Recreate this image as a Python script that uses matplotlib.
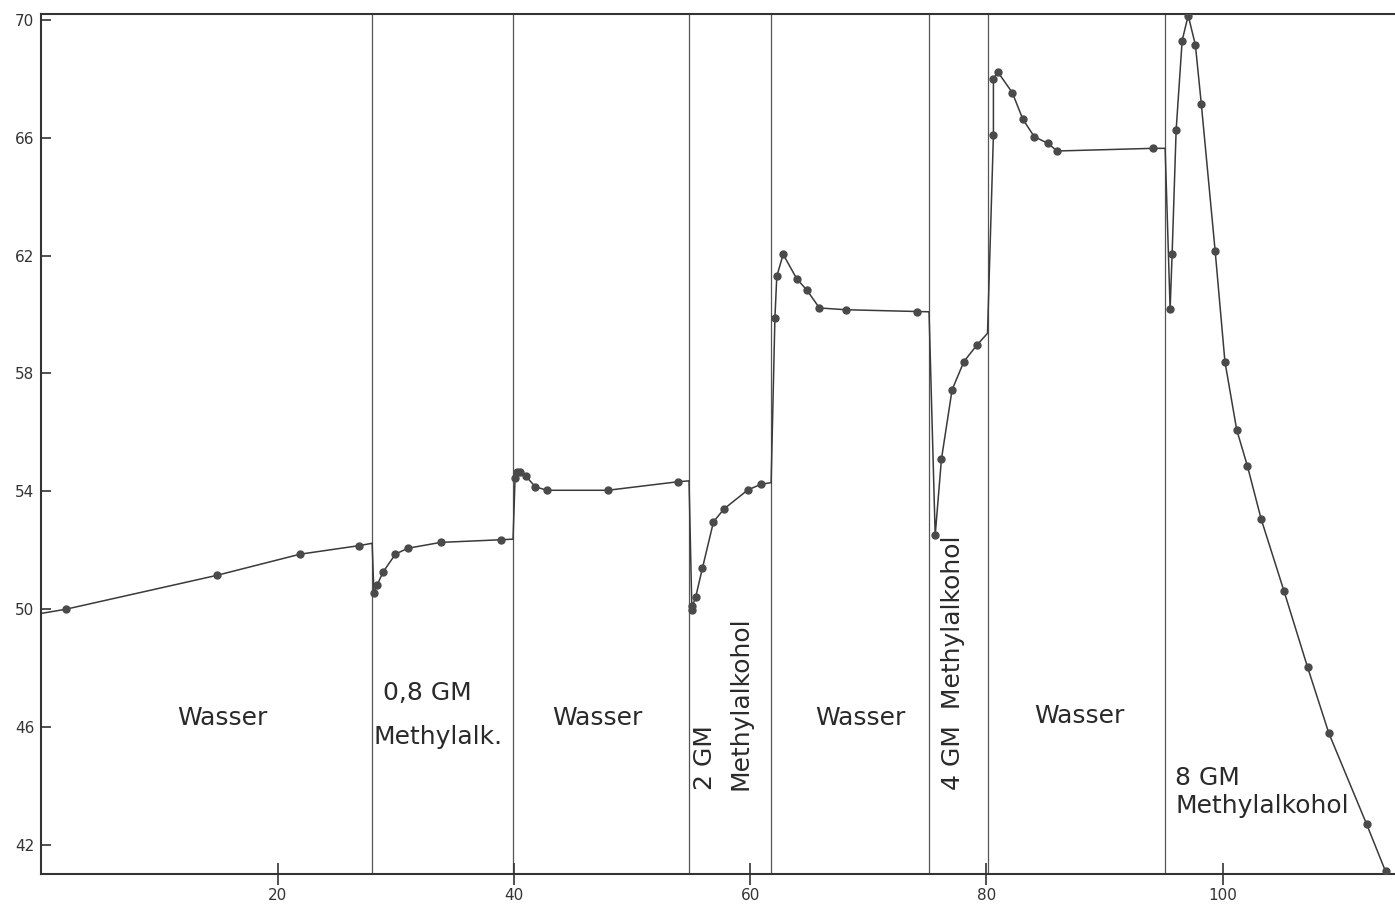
import matplotlib
matplotlib.use("Agg")
import matplotlib.pyplot as plt

# ---- data ----
# measured points (with markers) per segment; junction points (no marker) mark
# where the pen line meets a separator
x_vals = [0.0, 2.06, 14.84, 21.9, 26.9, 28.0,
          28.15, 28.45, 28.9, 29.97, 31.0, 33.8, 38.9, 39.93,
          40.1, 40.25, 40.5, 41.0, 41.8, 42.8, 47.95, 53.9, 54.83,
          55.07, 55.12, 55.4, 55.96, 56.9, 57.8, 59.8, 60.9, 61.78,
          62.1, 62.26, 62.8, 63.95, 64.8, 65.87, 68.1, 74.1, 75.15,
          75.67, 76.2, 77.1, 78.1, 79.2, 80.1,
          80.6, 80.6, 80.96, 82.2, 83.09, 84.05, 85.2, 86.0, 94.1, 95.14,
          95.56, 95.73, 96.07, 96.58, 97.09, 97.7, 98.2, 99.37, 100.2,
          101.2, 102.1, 103.27, 105.2, 107.2, 109.0, 112.2, 113.8]
y_vals = [49.85, 49.99, 51.14, 51.86, 52.15, 52.23,
          50.53, 50.83, 51.24, 51.86, 52.06, 52.26, 52.35, 52.37,
          54.43, 54.66, 54.66, 54.52, 54.15, 54.03, 54.03, 54.32, 54.35,
          49.97, 50.10, 50.42, 51.38, 52.96, 53.40, 54.04, 54.23, 54.29,
          59.87, 61.30, 62.04, 61.21, 60.83, 60.22, 60.16, 60.10, 60.09,
          52.50, 55.09, 57.44, 58.40, 58.96, 59.36,
          66.10, 67.98, 68.24, 67.53, 66.63, 66.04, 65.81, 65.55, 65.64, 65.64,
          60.18, 62.05, 66.26, 69.30, 70.15, 69.15, 67.15, 62.17, 58.40,
          56.08, 54.86, 53.05, 50.61, 48.02, 45.78, 42.69, 41.09]
is_measured = [0, 1, 1, 1, 1, 0,
               1, 1, 1, 1, 1, 1, 1, 0,
               1, 1, 1, 1, 1, 1, 1, 1, 0,
               1, 1, 1, 1, 1, 1, 1, 1, 0,
               1, 1, 1, 1, 1, 1, 1, 1, 0,
               1, 1, 1, 1, 1, 0,
               1, 1, 1, 1, 1, 1, 1, 1, 1, 0,
               1, 1, 1, 1, 1, 1, 1, 1, 1,
               1, 1, 1, 1, 1, 1, 1, 1]

separators = [28.0, 39.93, 54.83, 61.78, 75.15, 80.12, 95.14]

x_ticks = [20, 40, 60, 80, 100]
y_ticks = [42, 46, 50, 54, 58, 62, 66, 70]

# (text, x, y, rotation, ha, va)
labels = [
    ("Wasser", 15.3, 46.3, 0, "center", "center"),
    ("0,8 GM", 32.7, 47.15, 0, "center", "center"),
    ("Methylalk.", 33.6, 45.65, 0, "center", "center"),
    ("Wasser", 47.1, 46.3, 0, "center", "center"),
    ("2 GM", 56.2, 43.85, 90, "center", "bottom"),
    ("Methylalkohol", 59.2, 43.85, 90, "center", "bottom"),
    ("Wasser", 69.3, 46.3, 0, "center", "center"),
    ("4 GM  Methylalkohol", 77.2, 43.85, 90, "center", "bottom"),
    ("Wasser", 87.9, 46.35, 0, "center", "center"),
    ("8 GM", 96.0, 44.25, 0, "left", "center"),
    ("Methylalkohol", 96.0, 43.3, 0, "left", "center"),
]

# ---- figure ----
plt.rcParams['font.family'] = ['DejaVu Sans']
fig = plt.figure(figsize=(13.95, 9.06), dpi=100)
ax = fig.add_axes([0.0297, 0.0353, 0.9703, 0.9492])
ax.set_xlim(0, 114.6)
ax.set_ylim(41.0, 70.2)

ink = "#3a3a3a"
for s in separators:
    ax.axvline(s, color="#555555", lw=0.9, zorder=1)

ax.plot(x_vals, y_vals, color=ink, lw=1.1, zorder=2)
mx = [x for x, m in zip(x_vals, is_measured) if m]
my = [y for y, m in zip(y_vals, is_measured) if m]
ax.plot(mx, my, linestyle="none", marker="o", ms=5, color="#4a4a4a", zorder=3)

for t, x, y, rot, ha, va in labels:
    ax.text(x, y, t, rotation=rot, ha=ha, va=va, fontsize=18,
            color="#2a2a2a")

ax.spines["right"].set_visible(False)
for sp in ("left", "bottom", "top"):
    ax.spines[sp].set_linewidth(1.5)
    ax.spines[sp].set_color("#333333")

ax.set_xticks(x_ticks)
ax.set_yticks(y_ticks)
ax.tick_params(axis="y", direction="in", length=7, width=1.2, pad=5,
               labelsize=11, colors="#333333")
ax.tick_params(axis="x", direction="inout", length=16, width=1.2, pad=2,
               labelsize=11, colors="#333333")

fig.savefig("out.png", dpi=100)
